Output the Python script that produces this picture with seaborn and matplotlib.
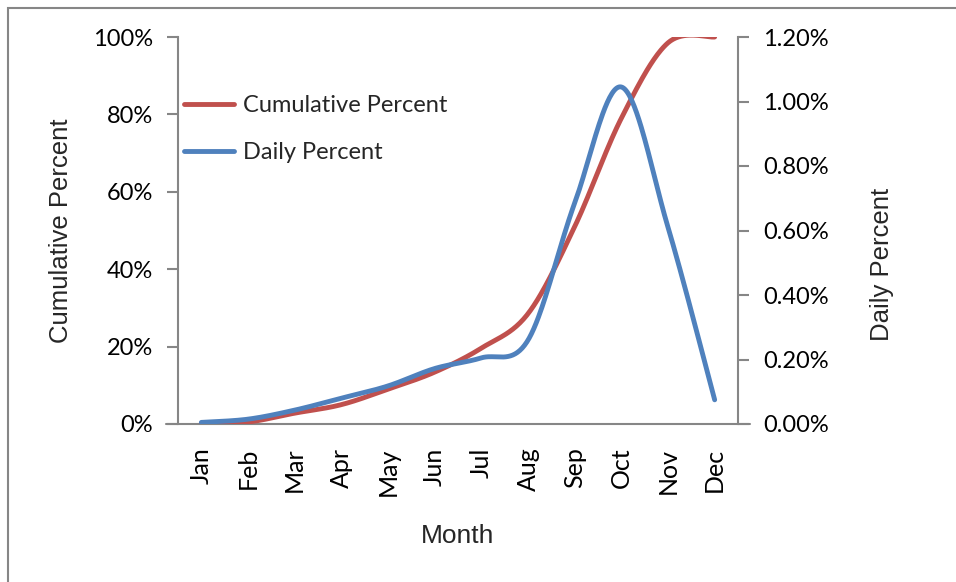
import numpy as np
import pandas as pd
import matplotlib
matplotlib.use("Agg")
import matplotlib.pyplot as plt
import seaborn as sns
from matplotlib.ticker import FuncFormatter
from matplotlib.patches import Rectangle

months = ["Jan", "Feb", "Mar", "Apr", "May", "Jun",
          "Jul", "Aug", "Sep", "Oct", "Nov", "Dec"]
cumulative_pct = [0.0, 0.5, 2.8, 5.0, 9.0, 13.4, 19.6, 28.5, 51.0, 79.0, 98.5, 100.0]
daily_pct = [0.005, 0.015, 0.043, 0.080, 0.118, 0.172, 0.205, 0.260, 0.685, 1.045, 0.610, 0.075]

RED = "#C0504D"
BLUE = "#4F81BD"
GRAY = "#868686"


def smooth(y, n=40):
    """Catmull-Rom style smoothing (as used for smoothed line charts)."""
    y = np.asarray(y, dtype=float)
    x = np.arange(len(y), dtype=float)
    xs, ys = [], []
    for i in range(len(y) - 1):
        p0 = (x[i - 1], y[i - 1]) if i > 0 else (x[i], y[i])
        p1 = (x[i], y[i])
        p2 = (x[i + 1], y[i + 1])
        p3 = (x[i + 2], y[i + 2]) if i + 2 < len(y) else (x[i + 1], y[i + 1])
        c1 = (p1[0] + (p2[0] - p0[0]) / 6, p1[1] + (p2[1] - p0[1]) / 6)
        c2 = (p2[0] - (p3[0] - p1[0]) / 6, p2[1] - (p3[1] - p1[1]) / 6)
        t = np.linspace(0, 1, n, endpoint=(i == len(y) - 2))
        b0 = (1 - t) ** 3
        b1 = 3 * (1 - t) ** 2 * t
        b2 = 3 * (1 - t) * t ** 2
        b3 = t ** 3
        xs.append(b0 * p1[0] + b1 * c1[0] + b2 * c2[0] + b3 * p2[0])
        ys.append(b0 * p1[1] + b1 * c1[1] + b2 * c2[1] + b3 * p2[1])
    return np.concatenate(xs), np.concatenate(ys)


sns.set_theme(style="white")
plt.rcParams["font.family"] = ["Lato", "DejaVu Sans"]

fig = plt.figure(figsize=(9.56, 5.82), dpi=100)
ax = fig.add_axes([178 / 956, 1 - 424 / 582, (738 - 178) / 956, (424 - 37) / 582])
ax2 = ax.twinx()

cx, cy = smooth(cumulative_pct)
dx, dy = smooth(daily_pct)
cum_df = pd.DataFrame({"x": cx, "y": cy})
day_df = pd.DataFrame({"x": dx, "y": dy})

sns.lineplot(data=cum_df, x="x", y="y", ax=ax, color=RED, linewidth=3.5,
             sort=False, label="Cumulative Percent", legend=False,
             solid_capstyle="round")
sns.lineplot(data=day_df, x="x", y="y", ax=ax2, color=BLUE, linewidth=3.5,
             sort=False, label="Daily Percent", legend=False,
             solid_capstyle="round")

ax.set_xlim(-0.5, len(months) - 0.5)
ax.set_ylim(0, 100)
ax2.set_ylim(0, 1.2)

ax.set_yticks(np.arange(0, 101, 20))
ax.yaxis.set_major_formatter(FuncFormatter(lambda v, p: f"{v:.0f}%"))
ax2.set_yticks(np.arange(0, 1.21, 0.2))
ax2.yaxis.set_major_formatter(FuncFormatter(lambda v, p: f"{v:.2f}%"))

ax.set_xticks(range(len(months)))
ax.set_xticklabels(months, rotation=90)

for a in (ax, ax2):
    for s in a.spines.values():
        s.set_visible(False)
ax.spines["left"].set_visible(True)
ax.spines["left"].set_color(GRAY)
ax.spines["left"].set_linewidth(1.5)
ax2.spines["right"].set_visible(True)
ax2.spines["right"].set_color(GRAY)
ax2.spines["right"].set_linewidth(1.5)

# horizontal baseline reaching past both vertical axes
ax.plot([-0.5 - 12 / 46.7, 11.5 + 12 / 46.7], [0, 0], color=GRAY, lw=1.5,
        clip_on=False, zorder=1)

ax.tick_params(axis="y", which="major", left=True, length=8, width=1.5,
               color=GRAY, labelsize=17, pad=10, labelcolor="black")
ax.tick_params(axis="x", which="major", bottom=False, length=0,
               labelsize=18, pad=17, labelcolor="black")
ax2.tick_params(axis="y", which="major", right=True, length=8, width=1.5,
                color=GRAY, labelsize=17, pad=10, labelcolor="black")

ax.set_xlabel("Month", fontsize=19, family="Liberation Sans")
ax.set_ylabel("Cumulative Percent", fontsize=18.5, family="Liberation Sans")
ax2.set_ylabel("Daily Percent", fontsize=18.5, family="Liberation Sans")
ax.xaxis.set_label_coords(0.5, -0.258)
ax.yaxis.set_label_coords(-0.187, 0.5)
ax2.yaxis.set_label_coords(1.236, 0.413)

h1, l1 = ax.get_legend_handles_labels()
h2, l2 = ax2.get_legend_handles_labels()
ax.legend(h1 + h2, l1 + l2, loc="upper left", bbox_to_anchor=(-0.011, 0.88),
          frameon=False, fontsize=17, handlelength=2.15, handletextpad=0.35,
          labelspacing=1.1, borderaxespad=0.1)

# chart-area frame
fig.patches.append(Rectangle((8 / 956, -0.1), 1.2, 1.1 - 8 / 582,
                             transform=fig.transFigure, fill=False,
                             edgecolor=GRAY, linewidth=1.5, zorder=0))

fig.savefig("out.png", dpi=100)
